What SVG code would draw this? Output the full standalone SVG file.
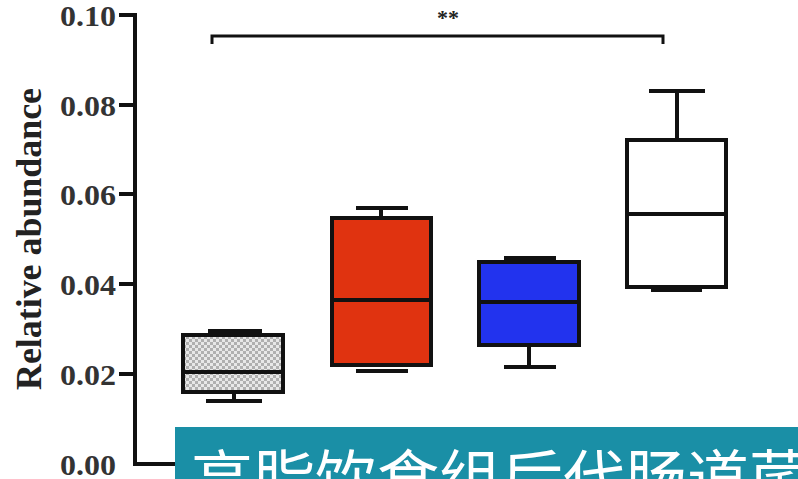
<svg xmlns="http://www.w3.org/2000/svg" width="798" height="479" viewBox="0 0 798 479">
<style>
.ax{stroke:#111;stroke-width:4;fill:none}
.bx{stroke:#111;stroke-width:4}
.wk{stroke:#111;stroke-width:4;fill:none}
.tl{font-family:"Liberation Serif","Times New Roman",serif;font-weight:bold;font-size:29px;fill:#333;text-anchor:end}
.yl{font-family:"Liberation Serif","Times New Roman",serif;font-weight:bold;font-size:35px;fill:#222;text-anchor:middle}
.st{font-family:"Liberation Serif","Times New Roman",serif;font-weight:bold;font-size:22px;fill:#222;text-anchor:middle}
.bn{font-family:"Noto Sans CJK SC","Noto Sans",sans-serif;font-size:62px;fill:#fff}
</style>
<defs>
<pattern id="chk" width="6" height="6" patternUnits="userSpaceOnUse">
<rect width="6" height="6" fill="#e8e8e8"/>
<rect width="3" height="3" fill="#b0b0b0"/>
<rect x="3" y="3" width="3" height="3" fill="#b0b0b0"/>
</pattern>
</defs>
<rect width="798" height="479" fill="#fff"/>
<g id="axis">
<line class="ax" x1="135" y1="13" x2="135" y2="466"/>
<line class="ax" x1="133" y1="464" x2="180" y2="464"/>
<line class="ax" x1="119" y1="15" x2="137" y2="15"/>
<line class="ax" x1="119" y1="105" x2="137" y2="105"/>
<line class="ax" x1="119" y1="194" x2="137" y2="194"/>
<line class="ax" x1="119" y1="284" x2="137" y2="284"/>
<line class="ax" x1="119" y1="374" x2="137" y2="374"/>
<text class="tl" x="116" y="26" textLength="56" lengthAdjust="spacingAndGlyphs">0.10</text>
<text class="tl" x="116" y="116" textLength="56" lengthAdjust="spacingAndGlyphs">0.08</text>
<text class="tl" x="116" y="205" textLength="56" lengthAdjust="spacingAndGlyphs">0.06</text>
<text class="tl" x="116" y="295" textLength="56" lengthAdjust="spacingAndGlyphs">0.04</text>
<text class="tl" x="116" y="385" textLength="56" lengthAdjust="spacingAndGlyphs">0.02</text>
<text class="tl" x="116" y="475" textLength="56" lengthAdjust="spacingAndGlyphs">0.00</text>
<text class="yl" transform="translate(41,239) rotate(-90)" textLength="302" lengthAdjust="spacingAndGlyphs">Relative abundance</text>
</g>
<g id="box1">
<line class="wk" x1="208" y1="331" x2="262" y2="331"/>
<line class="wk" x1="234" y1="393" x2="234" y2="401"/>
<line class="wk" x1="206" y1="401" x2="262" y2="401"/>
<rect class="bx" x="183" y="335" width="100" height="57" fill="url(#chk)"/>
<line class="wk" x1="183" y1="372" x2="283" y2="372"/>
</g>
<g id="box2">
<line class="wk" x1="356" y1="208" x2="408" y2="208"/>
<line class="wk" x1="381" y1="208" x2="381" y2="218"/>
<line class="wk" x1="356" y1="371" x2="408" y2="371"/>
<rect class="bx" x="332" y="218" width="99" height="147" fill="#e03310"/>
<line class="wk" x1="332" y1="300" x2="431" y2="300"/>
</g>
<g id="box3">
<line class="wk" x1="504" y1="258" x2="556" y2="258"/>
<line class="wk" x1="529" y1="345" x2="529" y2="367"/>
<line class="wk" x1="504" y1="367" x2="556" y2="367"/>
<rect class="bx" x="479" y="262" width="100" height="83" fill="#2233ee"/>
<line class="wk" x1="479" y1="302" x2="579" y2="302"/>
</g>
<g id="box4">
<line class="wk" x1="649" y1="91" x2="705" y2="91"/>
<line class="wk" x1="677" y1="91" x2="677" y2="140"/>
<line class="wk" x1="651" y1="290" x2="702" y2="290"/>
<rect class="bx" x="627" y="140" width="99" height="147" fill="#fff"/>
<line class="wk" x1="627" y1="214" x2="726" y2="214"/>
</g>
<g id="connectors">
<polyline points="212,44 212,36 663,36 663,44" fill="none" stroke="#111" stroke-width="3"/>
<text class="st" x="448" y="25">**</text>
</g>
<g id="banner">
<rect x="175" y="427" width="623" height="52" fill="#1a8fa6"/>
<text class="bn" x="191" y="502">高脂饮食组后代肠道菌</text>
</g>
</svg>
